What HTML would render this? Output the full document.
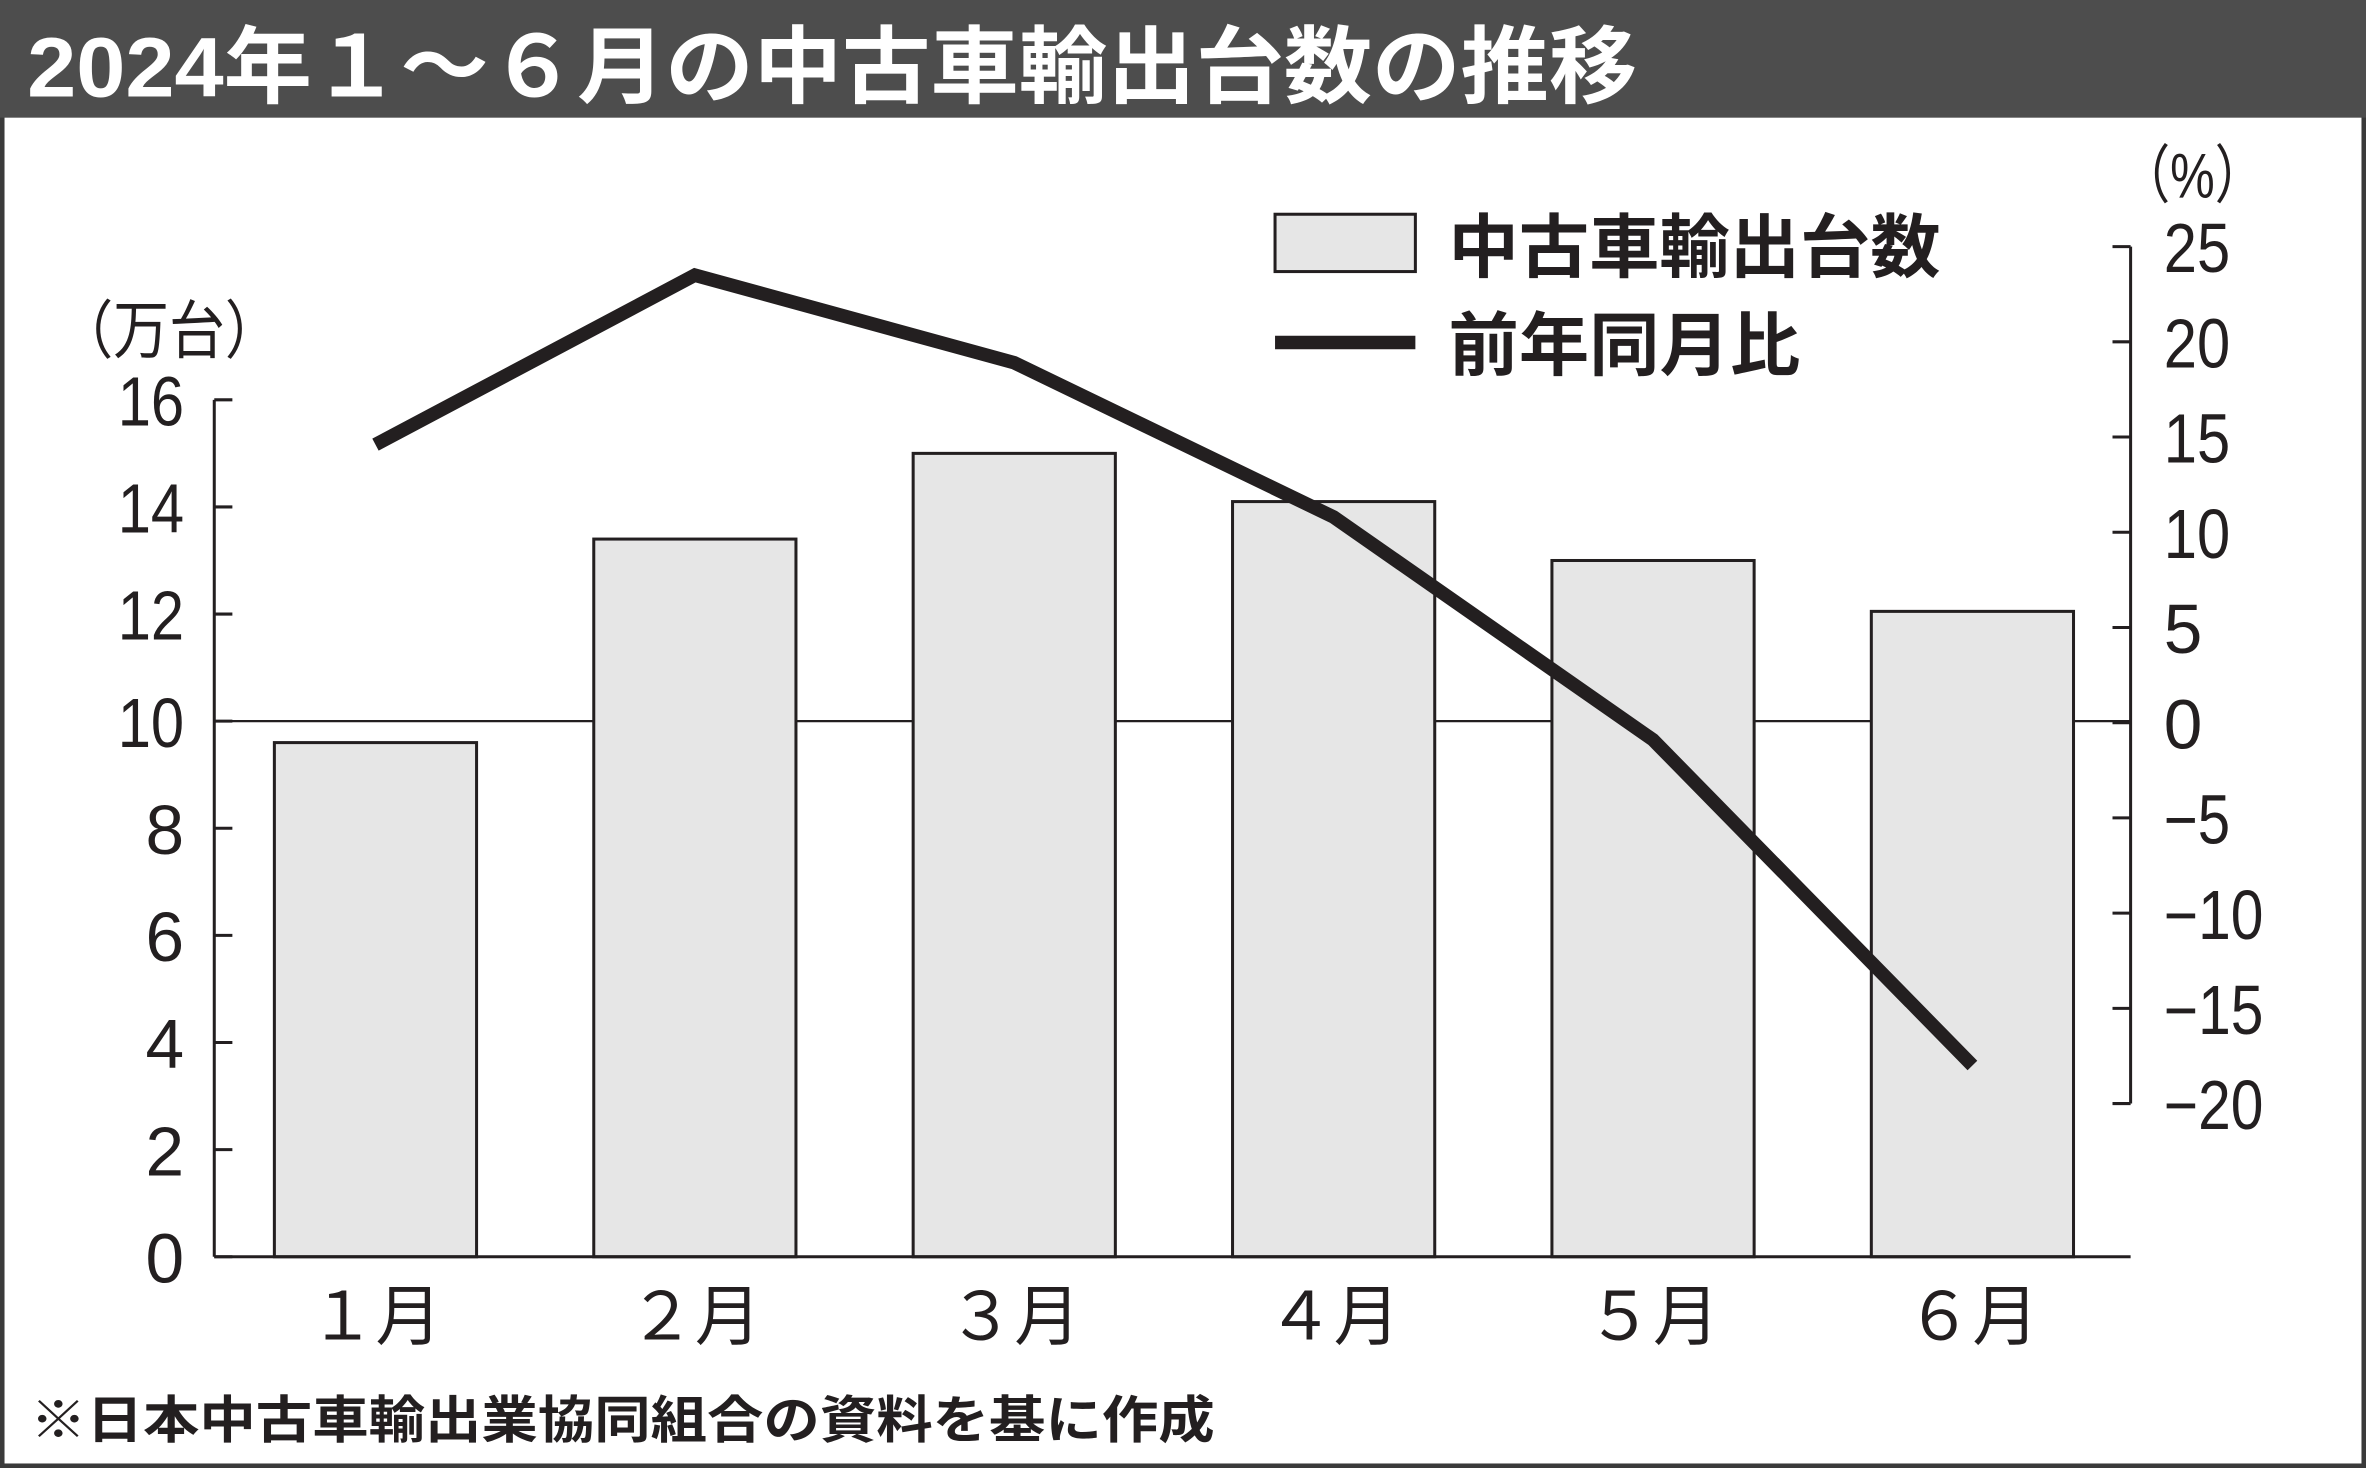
<!DOCTYPE html>
<html><head><meta charset="utf-8"><style>
html,body{margin:0;padding:0;background:#fff}
svg{display:block}
text{font-family:"Liberation Sans","Noto Sans CJK JP",sans-serif}
.n{font-family:"Liberation Sans Narrow","Liberation Sans","Noto Sans CJK JP",sans-serif;font-size:46px;fill:#231f20}
</style></head><body>
<svg id="chart" width="2366" height="1468" viewBox="0 0 1568 973" preserveAspectRatio="none" xmlns="http://www.w3.org/2000/svg">
<rect x="1.5" y="1.5" width="1565" height="970" fill="#fff" stroke="#3a3a3a" stroke-width="3"/>
<rect x="0" y="0" width="1568" height="78" fill="#4d4d4d"/>
<text x="18" y="64" font-size="56" font-weight="bold" fill="#fff" textLength="1067" lengthAdjust="spacingAndGlyphs">2024年１～６月の中古車輸出台数の推移</text>
<g id="plot"></g>
<text x="38" y="234" font-size="42" fill="#231f20" textLength="148" lengthAdjust="spacingAndGlyphs">（万台）</text>
<text x="1405" y="131" font-size="42" fill="#231f20" textLength="96" lengthAdjust="spacingAndGlyphs">（%）</text>
<rect x="845" y="142" width="93" height="38" fill="#e6e6e6" stroke="#231f20" stroke-width="2"/>
<text x="960" y="180" font-size="46" font-weight="bold" fill="#231f20" textLength="326" lengthAdjust="spacingAndGlyphs">中古車輸出台数</text>
<line x1="845" y1="227" x2="938" y2="227" stroke="#231f20" stroke-width="9"/>
<text x="960" y="245" font-size="46" font-weight="bold" fill="#231f20" textLength="233" lengthAdjust="spacingAndGlyphs">前年同月比</text>
<text x="20" y="953" font-size="34" font-weight="bold" fill="#231f20" textLength="785" lengthAdjust="spacingAndGlyphs">※日本中古車輸出業協同組合の資料を基に作成</text>
</svg>
<script>
const categories=["1月","2月","3月","4月","5月","6月"];
const exportUnits=[9.6,13.4,15.0,14.1,13.0,12.05];
const yoyPercent=[14.6,23.5,18.9,10.8,-0.9,-18.0];
const leftTicks=[0,2,4,6,8,10,12,14,16];
const rightTicks=[25,20,15,10,5,0,-5,-10,-15,-20];
const NS="http://www.w3.org/2000/svg";
const g=document.getElementById('plot');
const X0=142,X1=1412,band=(X1-X0)/categories.length;
const yL=v=>833-(v/16)*(833-265);
const yR=v=>479-v*(568/45);
const xC=i=>X0+band*(i+0.5)+1;
function mk(t,a){const e=document.createElementNS(NS,t);for(const k in a)e.setAttribute(k,a[k]);g.appendChild(e);return e;}
let e=mk('line',{x1:X0,x2:X1,y1:yL(10),y2:yL(10),stroke:'#231f20','stroke-width':1.5});


exportUnits.forEach((v,i)=>{const r=mk('rect',{x:xC(i)-67,y:yL(v),width:134,height:yL(0)-yL(v),fill:'#e6e6e6',stroke:'#231f20','stroke-width':2});


const t=mk('text',{x:xC(i),y:888,'text-anchor':'middle','font-size':44,fill:'#231f20'});t.textContent=String.fromCharCode(0xFF10+(i+1))+'月';

});
e=mk('line',{x1:X0,x2:X0,y1:265,y2:833,stroke:'#231f20','stroke-width':2});


e=mk('line',{x1:X0,x2:X1,y1:833,y2:833,stroke:'#231f20','stroke-width':2});


e=mk('line',{x1:X1,x2:X1,y1:yR(25),y2:yR(-20),stroke:'#231f20','stroke-width':2});


leftTicks.forEach(v=>{mk('line',{x1:X0,x2:X0+12,y1:yL(v),y2:yL(v),stroke:'#231f20','stroke-width':2});
const a={x:X0-20,y:yL(v)+17,'text-anchor':'end',class:'n'};
if(String(v).length>1){a.textLength=44;a.lengthAdjust='spacingAndGlyphs';}
const t=mk('text',a);t.textContent=v;

});
rightTicks.forEach(v=>{mk('line',{x1:X1-12,x2:X1,y1:yR(v),y2:yR(v),stroke:'#231f20','stroke-width':2});
const s=v<0?'−'+(-v):String(v);
const a={x:1434,y:yR(v)+17,class:'n'};
if(s.length>1){a.textLength=s.length*22;a.lengthAdjust='spacingAndGlyphs';}
const t=mk('text',a);t.textContent=s;

});
const pl=mk('polyline',{points:yoyPercent.map((v,i)=>xC(i)+','+yR(v)).join(' '),fill:'none',stroke:'#231f20','stroke-width':9,'stroke-linejoin':'miter'});


</script>
</body></html>
